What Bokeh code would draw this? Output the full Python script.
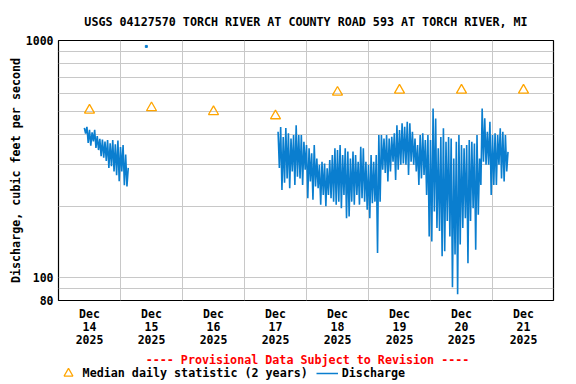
import numpy as np
import pandas as pd
from bokeh.plotting import figure
from bokeh.layouts import column
from bokeh.models import FixedTicker, Legend, LegendItem, Range1d, BasicTickFormatter, Label
from bokeh.embed import file_html
from bokeh.resources import INLINE

# ---------------- data ----------------
START = pd.Timestamp("2025-12-14 00:00")
title_text = "USGS 04127570 TORCH RIVER AT COUNTY ROAD 593 AT TORCH RIVER, MI"
y_label = "Discharge, cubic feet per second"
provisional_text = "---- Provisional Data Subject to Revision ----"
median_label = "Median daily statistic (2 years)"
discharge_label = "Discharge"

tick_days = [14, 15, 16, 17, 18, 19, 20, 21]
tick_labels = ["Dec\n14\n2025", "Dec\n15\n2025", "Dec\n16\n2025", "Dec\n17\n2025",
               "Dec\n18\n2025", "Dec\n19\n2025", "Dec\n20\n2025", "Dec\n21\n2025"]

# median daily statistic (2 years), at noon of each day
median_values = [508, 520, 501, 481, 605, 617, 617, 617]

# discharge, segment 1 : hourly high / low readings starting Dec 14 10:00
seg1_start_hour = 10
seg1_high = [428, 432, 420, 410, 420, 395, 385, 382, 375, 380, 368, 380, 365, 378, 355, 362, 330]
seg1_low = [405, 370, 360, 375, 352, 345, 325, 320, 310, 290, 295, 280, 270, 255, 280, 245, 242]
seg1_end = 290

# isolated reading, Dec 15 10:00
spike_hour = 34
spike_value = 944

# discharge, segment 2 : hourly high / low readings starting Dec 17 13:00
seg2_start_hour = 85
seg2_high = [412, 432, 392, 427, 406, 386, 399, 439, 399, 399, 374, 362, 351, 334, 362, 318,
             299, 308, 303, 289, 313, 329,
             351, 345, 362, 329, 351, 340, 318, 340, 329, 308, 356, 351, 308, 299, 329, 308,
             329, 399, 399, 386, 399, 386, 392,
             406, 439, 419, 447, 432, 454, 447, 412, 386, 362, 399, 406, 380, 399, 380, 516,
             469, 351, 392, 426, 374, 392, 386,
             318, 374, 399, 362, 351, 362, 380, 374, 368, 399, 318, 516, 470, 412, 454, 399,
             406, 399, 426, 412, 399]
seg2_low = [290, 234, 251, 262, 238, 280, 246, 266, 262, 246, 285, 216, 254, 213, 242, 238,
            203, 223, 200, 223, 216, 209,
            203, 209, 196, 223, 178, 181, 209, 203, 223, 203, 216, 209, 193, 178, 206, 209,
            127, 209, 285, 276, 254, 280, 308,
            258, 285, 299, 303, 299, 271, 308, 299, 280, 246, 262, 271, 223, 149, 142, 190,
            162, 157, 123, 129, 173, 149, 91,
            125, 85, 138, 162, 178, 115, 173, 196, 131, 184, 246, 308, 299, 299, 223, 246,
            246, 299, 262, 254, 280]
seg2_end = 339

# ---------------- helpers ----------------
MS_H = 3600 * 1000.0
T0 = START.value / 1e6


def t(hours):
    return T0 + hours * MS_H


def zigzag(h0, highs, lows, end_value):
    xs, ys = [], []
    for i, (hi, lo) in enumerate(zip(highs, lows)):
        xs += [t(h0 + i), t(h0 + i + 0.5)]
        ys += [hi, lo]
    xs.append(t(h0 + len(highs)))
    ys.append(end_value)
    return xs, ys


x1, y1 = zigzag(seg1_start_hour, seg1_high, seg1_low, seg1_end)
x2, y2 = zigzag(seg2_start_hour, seg2_high, seg2_low, seg2_end)
xs_all = x1 + [np.nan] + x2
ys_all = y1 + [np.nan] + y2

noon_ticks = [t(24 * (d - 14) + 12) for d in tick_days]
midnights = [t(24 * (d - 14)) for d in tick_days[1:]]

FONT = "DejaVu Sans Mono"
FS = "11.7px"
BLUE = "#0a7ecf"
ORANGE = "#ffa500"

# ---------------- main plot ----------------
p = figure(width=576, height=350, x_axis_type="datetime", y_axis_type="log",
           x_range=Range1d(T0, T0 + 24 * MS_H * 495 / 62.0), y_range=Range1d(80, 1000),
           output_backend="svg", toolbar_location=None,
           min_border_left=58, min_border_right=23, min_border_top=40, min_border_bottom=46)
p.background_fill_color = "white"
p.border_fill_color = "white"
p.outline_line_color = "black"
p.outline_line_width = 1.2

p.title.text = title_text
p.title.align = "center"
p.title.text_font = FONT
p.title.text_font_style = "bold"
p.title.text_font_size = FS
p.title.text_color = "black"
p.title.standoff = 24

p.xgrid.ticker = FixedTicker(ticks=midnights)
p.ygrid.ticker = FixedTicker(ticks=[90, 100, 200, 300, 400, 500, 600, 700, 800, 900])
for g in (p.xgrid, p.ygrid):
    g.grid_line_color = "#c8c8c8"
    g.grid_line_width = 1

xa = p.xaxis[0]
xa.ticker = FixedTicker(ticks=noon_ticks)
xa.major_label_overrides = {nt: lab for nt, lab in zip(noon_ticks, tick_labels)}
xa.axis_line_color = None
xa.major_tick_line_color = None
xa.minor_tick_line_color = None
xa.major_tick_out = 0
xa.major_tick_in = 0
xa.major_label_standoff = 6
xa.major_label_text_font = FONT
xa.major_label_text_font_style = "bold"
xa.major_label_text_font_size = "11.5px"
xa.major_label_text_line_height = 0.95
xa.major_label_text_color = "black"

ya = p.yaxis[0]
ya.ticker = FixedTicker(ticks=[80, 100, 1000])
ya.formatter = BasicTickFormatter()
ya.major_label_overrides = {80: "80", 100: "100", 1000: "1000"}
ya.axis_line_color = None
ya.major_tick_line_color = None
ya.minor_tick_line_color = None
ya.major_tick_out = 0
ya.major_tick_in = 0
ya.major_label_standoff = 5
ya.major_label_text_font = FONT
ya.major_label_text_font_style = "bold"
ya.major_label_text_font_size = "11.5px"
ya.major_label_text_color = "black"
ya.axis_label = y_label
ya.axis_label_standoff = 0
ya.axis_label_text_font = FONT
ya.axis_label_text_font_style = "bold"
ya.axis_label_text_font_size = FS
ya.axis_label_text_color = "black"

line_r = p.line(xs_all, ys_all, line_color=BLUE, line_width=1.6)
p.scatter([t(spike_hour)], [spike_value], marker="square", size=2, color=BLUE)
med_r = p.scatter(noon_ticks, median_values, marker="triangle", size=10,
                  fill_color=None, line_color=ORANGE, line_width=1.3)

# ---------------- note + legend strip ----------------
# frame of this strip is aligned with the main frame (page x 58 .. 553)
q = figure(width=576, height=34, x_range=Range1d(58, 553), y_range=Range1d(34, 0),
           output_backend="svg", toolbar_location=None,
           x_axis_location=None, y_axis_location=None,
           min_border_left=58, min_border_right=23, min_border_top=0, min_border_bottom=0)
q.outline_line_color = None
q.xgrid.visible = False
q.ygrid.visible = False
q.background_fill_color = "white"
q.border_fill_color = "white"

q.add_layout(Label(x=307, y=9, text=provisional_text, text_align="center",
                   text_baseline="middle", text_font=FONT, text_font_style="bold",
                   text_font_size=FS, text_color="#ff0000"))

# legend keys reuse the real series (they fall outside this strip's ranges)
leg_med = q.scatter(noon_ticks, median_values, marker="triangle", size=10, fill_color=None,
                    line_color=ORANGE, line_width=1.3)
leg_dis = q.line(xs_all, ys_all, line_color=BLUE, line_width=1.5)
legend = Legend(items=[LegendItem(label=median_label, renderers=[leg_med]),
                       LegendItem(label=discharge_label, renderers=[leg_dis])],
                location=(-1.4, 0), orientation="horizontal",
                glyph_width=22, glyph_height=22, label_height=22, label_standoff=4,
                spacing=8, padding=0, margin=0,
                label_text_font=FONT, label_text_font_style="bold",
                label_text_font_size=FS, label_text_color="black",
                border_line_color=None, background_fill_alpha=0)
q.add_layout(legend)

layout = column(p, q, spacing=0)
open("out.html", "w").write(file_html(layout, INLINE))
